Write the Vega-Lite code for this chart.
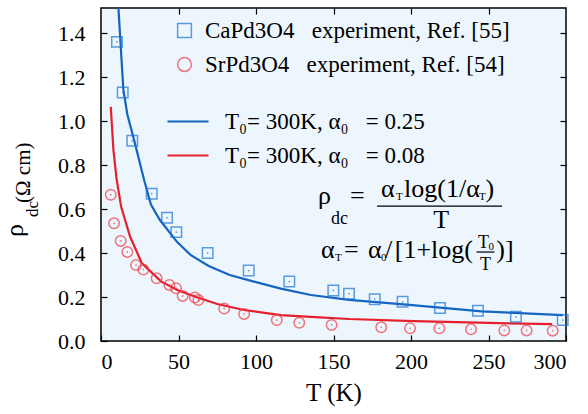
{
  "$schema": "https://vega.github.io/schema/vega-lite/v6.json",
  "width": 465,
  "height": 333,
  "autosize": {"type": "none"},
  "padding": {"left": 101, "top": 8, "right": 22, "bottom": 73},
  "background": "white",
  "config": {
    "view": {"fill": "#eef6fd", "stroke": "black", "strokeWidth": 1.5},
    "font": "Liberation Serif",
    "axis": {"labelFont": "Liberation Serif", "titleFont": "Liberation Serif"},
    "legend": {"labelFont": "Liberation Serif"},
    "text": {"font": "Liberation Serif"},
    "style": {
      "guide-label": {"font": "Liberation Serif"},
      "guide-title": {"font": "Liberation Serif"}
    }
  },
  "datasets": {
    "exp": [
      {"T": 10.3, "rho": 1.36, "sample": "CaPd3O4"},
      {"T": 14.0, "rho": 1.13, "sample": "CaPd3O4"},
      {"T": 20.2, "rho": 0.91, "sample": "CaPd3O4"},
      {"T": 32.7, "rho": 0.67, "sample": "CaPd3O4"},
      {"T": 42.6, "rho": 0.56, "sample": "CaPd3O4"},
      {"T": 48.6, "rho": 0.495, "sample": "CaPd3O4"},
      {"T": 68.8, "rho": 0.40, "sample": "CaPd3O4"},
      {"T": 95.3, "rho": 0.32, "sample": "CaPd3O4"},
      {"T": 121.5, "rho": 0.27, "sample": "CaPd3O4"},
      {"T": 149.9, "rho": 0.23, "sample": "CaPd3O4"},
      {"T": 160.0, "rho": 0.215, "sample": "CaPd3O4"},
      {"T": 176.6, "rho": 0.19, "sample": "CaPd3O4"},
      {"T": 194.6, "rho": 0.178, "sample": "CaPd3O4"},
      {"T": 218.7, "rho": 0.15, "sample": "CaPd3O4"},
      {"T": 243.2, "rho": 0.137, "sample": "CaPd3O4"},
      {"T": 267.7, "rho": 0.11, "sample": "CaPd3O4"},
      {"T": 297.9, "rho": 0.095, "sample": "CaPd3O4"},
      {"T": 6.3, "rho": 0.665, "sample": "SrPd3O4"},
      {"T": 8.4, "rho": 0.535, "sample": "SrPd3O4"},
      {"T": 12.7, "rho": 0.455, "sample": "SrPd3O4"},
      {"T": 17.0, "rho": 0.405, "sample": "SrPd3O4"},
      {"T": 22.6, "rho": 0.345, "sample": "SrPd3O4"},
      {"T": 27.3, "rho": 0.325, "sample": "SrPd3O4"},
      {"T": 35.9, "rho": 0.285, "sample": "SrPd3O4"},
      {"T": 44.1, "rho": 0.255, "sample": "SrPd3O4"},
      {"T": 48.4, "rho": 0.24, "sample": "SrPd3O4"},
      {"T": 52.7, "rho": 0.205, "sample": "SrPd3O4"},
      {"T": 60.6, "rho": 0.198, "sample": "SrPd3O4"},
      {"T": 62.8, "rho": 0.186, "sample": "SrPd3O4"},
      {"T": 79.5, "rho": 0.148, "sample": "SrPd3O4"},
      {"T": 92.3, "rho": 0.123, "sample": "SrPd3O4"},
      {"T": 113.4, "rho": 0.095, "sample": "SrPd3O4"},
      {"T": 127.9, "rho": 0.083, "sample": "SrPd3O4"},
      {"T": 148.8, "rho": 0.073, "sample": "SrPd3O4"},
      {"T": 180.8, "rho": 0.062, "sample": "SrPd3O4"},
      {"T": 199.4, "rho": 0.058, "sample": "SrPd3O4"},
      {"T": 218.3, "rho": 0.058, "sample": "SrPd3O4"},
      {"T": 238.7, "rho": 0.053, "sample": "SrPd3O4"},
      {"T": 260.2, "rho": 0.048, "sample": "SrPd3O4"},
      {"T": 274.6, "rho": 0.048, "sample": "SrPd3O4"},
      {"T": 291.4, "rho": 0.047, "sample": "SrPd3O4"}
    ],
    "fits": [
      {"T": 10.5, "rho": 1.60, "fit": "0.25"},
      {"T": 14.4, "rho": 1.145, "fit": "0.25"},
      {"T": 17.0, "rho": 1.03, "fit": "0.25"},
      {"T": 21.5, "rho": 0.91, "fit": "0.25"},
      {"T": 27.9, "rho": 0.73, "fit": "0.25"},
      {"T": 32.2, "rho": 0.62, "fit": "0.25"},
      {"T": 38.0, "rho": 0.55, "fit": "0.25"},
      {"T": 44.7, "rho": 0.49, "fit": "0.25"},
      {"T": 49.0, "rho": 0.451, "fit": "0.25"},
      {"T": 58.0, "rho": 0.39, "fit": "0.25"},
      {"T": 69.5, "rho": 0.341, "fit": "0.25"},
      {"T": 83.0, "rho": 0.30, "fit": "0.25"},
      {"T": 98.7, "rho": 0.27, "fit": "0.25"},
      {"T": 116.0, "rho": 0.238, "fit": "0.25"},
      {"T": 135.4, "rho": 0.209, "fit": "0.25"},
      {"T": 160.0, "rho": 0.187, "fit": "0.25"},
      {"T": 199.0, "rho": 0.164, "fit": "0.25"},
      {"T": 245.6, "rho": 0.135, "fit": "0.25"},
      {"T": 270.0, "rho": 0.127, "fit": "0.25"},
      {"T": 298.0, "rho": 0.118, "fit": "0.25"},
      {"T": 6.3, "rho": 1.065, "fit": "0.08"},
      {"T": 8.0, "rho": 0.87, "fit": "0.08"},
      {"T": 10.0, "rho": 0.74, "fit": "0.08"},
      {"T": 13.0, "rho": 0.61, "fit": "0.08"},
      {"T": 18.8, "rho": 0.474, "fit": "0.08"},
      {"T": 26.4, "rho": 0.353, "fit": "0.08"},
      {"T": 38.9, "rho": 0.27, "fit": "0.08"},
      {"T": 50.0, "rho": 0.23, "fit": "0.08"},
      {"T": 60.5, "rho": 0.202, "fit": "0.08"},
      {"T": 75.0, "rho": 0.168, "fit": "0.08"},
      {"T": 92.2, "rho": 0.141, "fit": "0.08"},
      {"T": 116.0, "rho": 0.118, "fit": "0.08"},
      {"T": 135.4, "rho": 0.11, "fit": "0.08"},
      {"T": 160.0, "rho": 0.10, "fit": "0.08"},
      {"T": 202.0, "rho": 0.09, "fit": "0.08"},
      {"T": 250.0, "rho": 0.082, "fit": "0.08"},
      {"T": 291.0, "rho": 0.077, "fit": "0.08"}
    ],
    "formulaBig": [
      {"T": 140.0, "rho": 0.6227, "label": "ρ"},
      {"T": 160.6, "rho": 0.6227, "label": "="},
      {"T": 180.6, "rho": 0.6545, "label": "α"},
      {"T": 195.5, "rho": 0.6545, "label": "log(1/α"},
      {"T": 248.0, "rho": 0.6545, "label": ")"},
      {"T": 141.9, "rho": 0.3773, "label": "α"},
      {"T": 156.8, "rho": 0.3773, "label": "="},
      {"T": 172.3, "rho": 0.3773, "label": "α"},
      {"T": 183.2, "rho": 0.3773, "label": "/"},
      {"T": 189.5, "rho": 0.3773, "label": "[1+log("},
      {"T": 255.0, "rho": 0.3773, "label": ")]"}
    ],
    "formulaSub": [
      {"T": 190.3, "rho": 0.6409, "label": "T"},
      {"T": 243.9, "rho": 0.6409, "label": "T"},
      {"T": 151.0, "rho": 0.3636, "label": "T"},
      {"T": 180.6, "rho": 0.3636, "label": "0"},
      {"T": 250.0, "rho": 0.4136, "label": "0"}
    ],
    "formulaDc": [
      {"T": 148.4, "rho": 0.5318, "label": "dc"}
    ],
    "formulaCenter": [
      {"T": 219.4, "rho": 0.5136, "label": "T"}
    ],
    "formulaSmall": [
      {"T": 246.8, "rho": 0.4227, "label": "T"},
      {"T": 248.0, "rho": 0.3227, "label": "T"}
    ],
    "bars": [
      {"T1": 178.1, "T2": 258.7, "rho": 0.6136},
      {"T1": 242.2, "T2": 253.8, "rho": 0.4045}
    ],
    "ytitleBig": [
      {"T": -50.3, "rho": 0.4727, "label": "ρ"}
    ],
    "ytitleRest": [
      {"T": -45.8, "rho": 0.6273, "label": "(Ω cm)"}
    ],
    "ytitleSub": [
      {"T": -40.6, "rho": 0.5636, "label": "dc"}
    ]
  },
  "layer": [
    {
      "data": {"name": "fits"},
      "mark": {"type": "line", "strokeWidth": 2.2, "clip": true},
      "encoding": {
        "x": {"field": "T", "type": "quantitative", "scale": {"domain": [0, 300], "nice": false, "zero": false}, "axis": null},
        "y": {"field": "rho", "type": "quantitative", "scale": {"domain": [0, 1.514], "nice": false, "zero": false}, "axis": null},
        "stroke": {
          "field": "fit", "type": "nominal",
          "scale": {"domain": ["0.25", "0.08"], "range": ["#1565c0", "#e5202e"]},
          "legend": {
            "orient": "none", "legendX": 65, "legendY": 91.5, "title": null,
            "padding": 0, "rowPadding": -12, "labelOffset": 15,
            "symbolType": "stroke", "symbolSize": 1681, "symbolStrokeWidth": 2.2,
            "labelFont": "Liberation Serif", "labelFontSize": 23, "labelColor": "black",
            "labelLimit": 400,
            "labelExpr": "datum.label == '0.25' ? 'T₀= 300K, α₀\u00a0\u00a0\u00a0= 0.25' : 'T₀= 300K, α₀\u00a0\u00a0\u00a0= 0.08'"
          }
        }
      }
    },
    {
      "data": {"name": "exp"},
      "mark": {"type": "point", "filled": false, "size": 110, "strokeWidth": 1.5},
      "encoding": {
        "x": {
          "field": "T", "type": "quantitative",
          "axis": {
            "orient": "bottom", "values": [0, 50, 100, 150, 200, 250, 300], "domain": false, "grid": false,
            "tickSize": -6, "tickColor": "black", "tickWidth": 1.2, "labelPadding": 16,
            "labelFont": "Liberation Serif", "labelFontSize": 22, "labelColor": "black",
            "title": "T (K)", "titleFont": "Liberation Serif", "titleFontSize": 25, "titleFontWeight": "normal",
            "titleColor": "black", "titlePadding": 8
          }
        },
        "y": {
          "field": "rho", "type": "quantitative",
          "axis": {
            "orient": "left", "values": [0, 0.2, 0.4, 0.6, 0.8, 1.0, 1.2, 1.4], "format": ".1f",
            "domain": false, "grid": false,
            "tickSize": -6, "tickColor": "black", "tickWidth": 1.2, "labelPadding": 22,
            "labelFont": "Liberation Serif", "labelFontSize": 22, "labelColor": "black",
            "title": null
          }
        },
        "color": {
          "field": "sample", "type": "nominal",
          "scale": {"domain": ["CaPd3O4", "SrPd3O4"], "range": ["#1a75d2", "#ee3e48"]},
          "legend": {
            "orient": "none", "legendX": 72, "legendY": 11, "title": null,
            "padding": 0, "rowPadding": 10, "labelOffset": 9,
            "symbolSize": 190, "symbolStrokeWidth": 1.5, "symbolFillColor": "transparent",
            "labelFont": "Liberation Serif", "labelFontSize": 23, "labelColor": "black",
            "labelLimit": 400,
            "labelExpr": "datum.label == 'CaPd3O4' ? 'CaPd3O4\u00a0\u00a0\u00a0experiment, Ref. [55]' : 'SrPd3O4\u00a0\u00a0\u00a0experiment, Ref. [54]'"
          }
        },
        "shape": {
          "field": "sample", "type": "nominal",
          "scale": {"domain": ["CaPd3O4", "SrPd3O4"], "range": ["square", "circle"]},
          "legend": {
            "orient": "none", "legendX": 72, "legendY": 11, "title": null,
            "padding": 0, "rowPadding": 10, "labelOffset": 9,
            "symbolSize": 190, "symbolStrokeWidth": 1.5, "symbolFillColor": "transparent",
            "labelFont": "Liberation Serif", "labelFontSize": 23, "labelColor": "black",
            "labelLimit": 400,
            "labelExpr": "datum.label == 'CaPd3O4' ? 'CaPd3O4\u00a0\u00a0\u00a0experiment, Ref. [55]' : 'SrPd3O4\u00a0\u00a0\u00a0experiment, Ref. [54]'"
          }
        }
      }
    },
    {
      "data": {"name": "exp"},
      "transform": [{"filter": "datum.sample == 'CaPd3O4'"}],
      "mark": {"type": "point", "filled": true, "size": 3, "strokeWidth": 0, "color": "#1a75d2"},
      "encoding": {
        "x": {
          "field": "T", "type": "quantitative",
          "axis": {"orient": "top", "values": [50, 100, 150, 200, 250], "domain": false, "grid": false, "labels": false,
            "tickSize": -6, "tickColor": "black", "tickWidth": 1.2, "title": null}
        },
        "y": {
          "field": "rho", "type": "quantitative",
          "axis": {"orient": "right", "values": [0.2, 0.4, 0.6, 0.8, 1.0, 1.2, 1.4], "domain": false, "grid": false, "labels": false,
            "tickSize": -6, "tickColor": "black", "tickWidth": 1.2, "title": null}
        }
      }
    },
    {
      "data": {"name": "exp"},
      "transform": [{"filter": "datum.sample == 'SrPd3O4'"}],
      "mark": {"type": "point", "filled": true, "size": 3, "strokeWidth": 0, "color": "#ee3e48"},
      "encoding": {
        "x": {"field": "T", "type": "quantitative", "axis": null},
        "y": {"field": "rho", "type": "quantitative", "axis": null}
      }
    },
    {
      "data": {"name": "bars"},
      "mark": {"type": "rule", "strokeWidth": 1.2, "color": "black"},
      "encoding": {
        "x": {"field": "T1", "type": "quantitative", "axis": null},
        "x2": {"field": "T2"},
        "y": {"field": "rho", "type": "quantitative", "axis": null}
      }
    },
    {
      "data": {"name": "formulaBig"},
      "mark": {"type": "text", "align": "left", "baseline": "alphabetic", "fontSize": 26, "font": "Liberation Serif", "color": "black"},
      "encoding": {
        "x": {"field": "T", "type": "quantitative", "axis": null},
        "y": {"field": "rho", "type": "quantitative", "axis": null},
        "text": {"field": "label"}
      }
    },
    {
      "data": {"name": "formulaSub"},
      "mark": {"type": "text", "align": "left", "baseline": "alphabetic", "fontSize": 11, "font": "Liberation Serif", "color": "black"},
      "encoding": {
        "x": {"field": "T", "type": "quantitative", "axis": null},
        "y": {"field": "rho", "type": "quantitative", "axis": null},
        "text": {"field": "label"}
      }
    },
    {
      "data": {"name": "formulaDc"},
      "mark": {"type": "text", "align": "left", "baseline": "alphabetic", "fontSize": 18, "font": "Liberation Serif", "color": "black"},
      "encoding": {
        "x": {"field": "T", "type": "quantitative", "axis": null},
        "y": {"field": "rho", "type": "quantitative", "axis": null},
        "text": {"field": "label"}
      }
    },
    {
      "data": {"name": "formulaCenter"},
      "mark": {"type": "text", "align": "center", "baseline": "alphabetic", "fontSize": 26, "font": "Liberation Serif", "color": "black"},
      "encoding": {
        "x": {"field": "T", "type": "quantitative", "axis": null},
        "y": {"field": "rho", "type": "quantitative", "axis": null},
        "text": {"field": "label"}
      }
    },
    {
      "data": {"name": "formulaSmall"},
      "mark": {"type": "text", "align": "center", "baseline": "alphabetic", "fontSize": 18, "font": "Liberation Serif", "color": "black"},
      "encoding": {
        "x": {"field": "T", "type": "quantitative", "axis": null},
        "y": {"field": "rho", "type": "quantitative", "axis": null},
        "text": {"field": "label"}
      }
    },
    {
      "data": {"name": "ytitleBig"},
      "mark": {"type": "text", "align": "left", "baseline": "alphabetic", "angle": 270, "fontSize": 26, "font": "Liberation Serif", "color": "black"},
      "encoding": {
        "x": {"field": "T", "type": "quantitative", "axis": null},
        "y": {"field": "rho", "type": "quantitative", "axis": null},
        "text": {"field": "label"}
      }
    },
    {
      "data": {"name": "ytitleRest"},
      "mark": {"type": "text", "align": "left", "baseline": "alphabetic", "angle": 270, "fontSize": 21, "font": "Liberation Serif", "color": "black"},
      "encoding": {
        "x": {"field": "T", "type": "quantitative", "axis": null},
        "y": {"field": "rho", "type": "quantitative", "axis": null},
        "text": {"field": "label"}
      }
    },
    {
      "data": {"name": "ytitleSub"},
      "mark": {"type": "text", "align": "left", "baseline": "alphabetic", "angle": 270, "fontSize": 17, "font": "Liberation Serif", "color": "black"},
      "encoding": {
        "x": {"field": "T", "type": "quantitative", "axis": null},
        "y": {"field": "rho", "type": "quantitative", "axis": null},
        "text": {"field": "label"}
      }
    }
  ],
  "resolve": {"axis": {"x": "independent", "y": "independent"}}
}
